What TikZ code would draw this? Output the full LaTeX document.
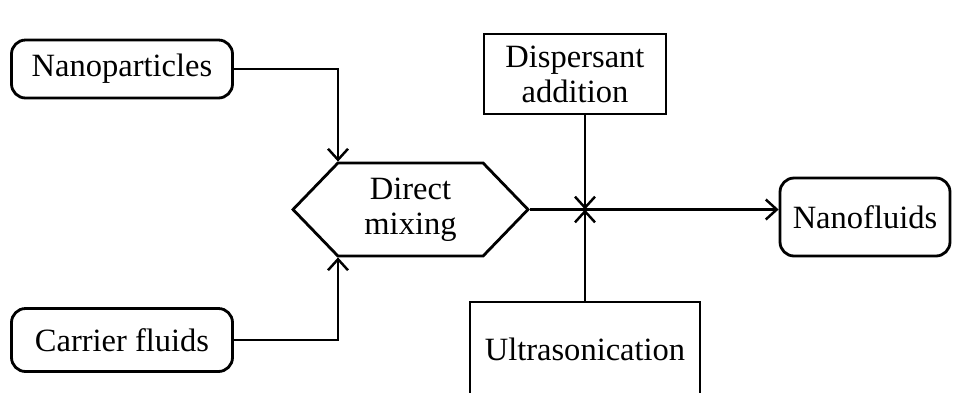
\documentclass[tikz,border=0pt]{standalone}
\usepackage{fontspec}
\setmainfont{Liberation Serif}
\usetikzlibrary{shapes.symbols,arrows.meta,calc}

\begin{document}
\begin{tikzpicture}[
	line width=1.4pt,
	every node/.style={font=\fontsize{18.5}{20}\selectfont, align=center, inner sep=0pt},
	inbox/.style={draw, rounded corners=8pt, line width=1.6pt},
	stepbox/.style={draw, line width=1.6pt},
	flow/.style={-{Straight Barb[length=2.2mm,width=4mm]}}
]

	\useasboundingbox (0,0) rectangle (19.22,-7.84);

	\node[inbox, minimum width=4.42cm, minimum height=1.16cm] (nano) at (2.44,-1.38) {Nanoparticles};
	\node[inbox, minimum width=4.42cm, minimum height=1.26cm] (carrier) at (2.44,-6.8) {Carrier fluids};
	\node[draw, line width=1.6pt, signal, signal to=west and east, signal pointer angle=92,
		minimum width=4.7cm, minimum height=1.86cm] (mix) at (8.21,-4.19) {Direct\\mixing};
	\node[stepbox, minimum width=3.64cm, minimum height=1.6cm] (disp) at (11.5,-1.48) {Dispersant\\addition};
	\node[stepbox, minimum width=4.6cm, minimum height=1.88cm] (ultra) at (11.7,-6.98) {Ultrasonication};
	\node[inbox, minimum width=3.4cm, minimum height=1.56cm] (nanofl) at (17.3,-4.34) {Nanofluids};

	\coordinate (cross) at (ultra.north |- mix.east);

%	inputs into the mixer
	\draw[flow] (nano.east) -| ($(mix.north)+(-1.45,0)$);
	\draw[flow] (carrier.east) -| ($(mix.south)+(-1.45,0)$);
	\draw[flow] (mix.east) -- (mix.east -| nanofl.west);
	\draw[flow] (cross |- disp.south) -- (cross);
	\draw[flow] (ultra.north) -- (cross);

\end{tikzpicture}
\end{document}
